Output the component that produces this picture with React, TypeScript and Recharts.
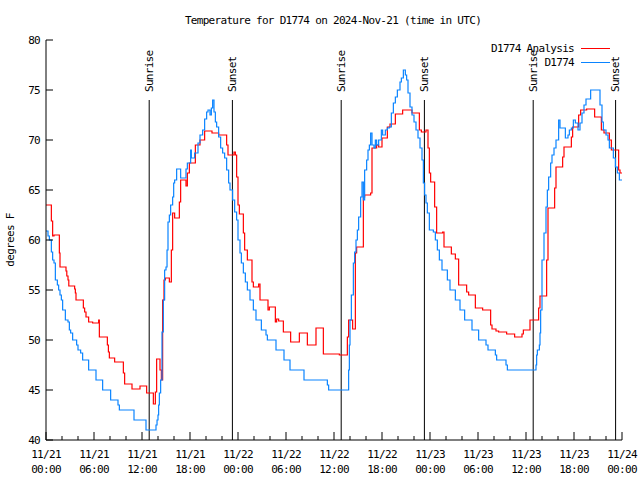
import { LineChart, Line, XAxis, YAxis, ReferenceLine, Legend } from "recharts";

// hours since 11/21 00:00 UTC, temperature in F
const analysis: [number, number][] = [
  [0, 63.5], [0.67, 61.9], [0.83, 60.4], [1.0, 60.5], [1.67, 58.7], [1.75, 57.3], [2.5, 56.9], [2.6, 56.4],
  [2.75, 56.0], [2.85, 55.4], [3.58, 55.1], [3.67, 54.7], [3.75, 54.0], [4.67, 53.2], [4.83, 52.8], [5.0, 52.3],
  [5.33, 51.8], [5.83, 51.7], [6.58, 52.0], [6.67, 50.3], [7.67, 49.5], [7.8, 48.8], [7.92, 48.2], [8.58, 47.8],
  [9.67, 46.7], [9.83, 45.6], [10.75, 45.1], [11.75, 45.4], [12.58, 44.7], [13.42, 43.6], [13.67, 44.8], [13.83, 48.1],
  [14.25, 47.0], [14.42, 46.0], [14.58, 54.0], [14.75, 56.0], [14.92, 56.2], [15.42, 55.8], [15.67, 59.0], [15.83, 62.7],
  [16.08, 62.2], [16.67, 63.8], [16.83, 66.0], [17.5, 65.4], [17.67, 66.7], [17.92, 67.7], [18.67, 69.5], [19.25, 70.0],
  [19.83, 70.9], [20.75, 70.7], [21.58, 70.5], [22.58, 69.5], [22.75, 68.5], [23.5, 68.8], [23.67, 68.5], [23.83, 66.3],
  [24.0, 63.5], [24.17, 62.6], [24.67, 60.7], [24.83, 59.0], [25.17, 58.0], [25.75, 55.8], [25.92, 55.3], [26.58, 55.6],
  [26.75, 54.0], [27.75, 53.0], [27.92, 53.3], [28.67, 51.8], [28.83, 52.1], [29.08, 51.9], [29.67, 50.8], [30.58, 49.8],
  [31.67, 50.7], [32.67, 49.5], [33.75, 51.2], [34.67, 48.6], [36.67, 48.5], [37.67, 50.3], [37.83, 52.0], [38.33, 51.1],
  [38.67, 58.7], [38.83, 59.3], [39.67, 64.3], [39.83, 64.5], [40.58, 64.7], [40.75, 69.2], [41.33, 69.5], [41.58, 69.3],
  [42.0, 70.2], [42.67, 71.3], [43.0, 71.6], [43.67, 72.6], [44.58, 73.0], [45.75, 72.7], [46.67, 71.0], [46.92, 70.8],
  [47.5, 71.0], [47.75, 69.2], [47.92, 66.7], [48.08, 65.8], [48.58, 63.3], [48.83, 60.7], [49.58, 60.8], [49.75, 59.3],
  [50.67, 58.6], [51.17, 58.1], [51.58, 55.5], [52.58, 54.8], [52.83, 54.5], [53.67, 53.2], [54.58, 53.0], [55.58, 51.5],
  [55.75, 51.1], [56.25, 50.9], [56.58, 50.8], [57.58, 50.6], [58.58, 50.3], [59.5, 50.6], [59.67, 51.0], [60.5, 52.0],
  [61.58, 53.2], [61.75, 54.4], [62.58, 58.0], [62.75, 63.2], [63.58, 65.2], [63.75, 67.3], [64.58, 68.3], [64.75, 69.3],
  [65.67, 70.3], [65.83, 71.3], [66.58, 72.5], [66.83, 73.0], [67.58, 73.1], [68.58, 72.3], [69.42, 71.0], [69.75, 70.7],
  [70.42, 70.0], [70.67, 69.0], [71.58, 67.0], [71.75, 66.7], [72, 66.7],
];

const station: [number, number][] = [
  [0, 60.9], [0.25, 60.4], [0.42, 60.0], [0.67, 58.8], [0.83, 58.0], [1.0, 57.7], [1.17, 56.0], [1.42, 55.5],
  [1.58, 55.0], [1.75, 54.5], [1.92, 54.0], [2.08, 53.0], [2.42, 52.0], [2.75, 51.8], [2.92, 51.0], [3.08, 50.7],
  [3.33, 50.0], [3.83, 49.5], [4.0, 49.0], [4.33, 48.7], [4.58, 48.0], [5.33, 47.0], [6.25, 46.0], [7.08, 45.0],
  [8.08, 44.0], [9.0, 43.5], [9.17, 43.0], [11.0, 42.0], [12.5, 41.0], [13.75, 41.5], [13.88, 42.0], [14.0, 42.5],
  [14.08, 43.5], [14.17, 44.7], [14.33, 46.0], [14.5, 50.8], [14.67, 54.0], [14.83, 57.0], [15.0, 57.3], [15.13, 59.0],
  [15.25, 61.8], [15.42, 62.5], [15.58, 63.5], [15.83, 64.3], [15.96, 65.7], [16.08, 66.0], [16.33, 67.1], [16.83, 66.2],
  [17.5, 67.1], [17.67, 67.7], [18.08, 69.0], [18.17, 68.2], [18.58, 68.7], [19.0, 69.7], [19.25, 70.5], [19.58, 71.0],
  [19.83, 72.1], [20.08, 72.8], [20.25, 73.0], [20.5, 72.5], [20.67, 73.2], [20.83, 74.0], [21.0, 72.8], [21.17, 71.8],
  [21.33, 71.3], [21.58, 70.3], [21.83, 69.2], [22.08, 68.7], [22.33, 68.2], [22.58, 67.0], [22.83, 65.7], [23.0, 65.0],
  [23.33, 64.0], [23.58, 62.8], [23.83, 62.0], [24.0, 60.0], [24.25, 58.7], [24.42, 57.7], [24.67, 56.7], [24.92, 55.8],
  [25.17, 55.0], [25.5, 54.0], [25.92, 53.0], [26.25, 52.0], [26.92, 51.0], [27.5, 50.5], [27.67, 50.0], [28.75, 49.0],
  [29.75, 48.0], [30.5, 47.0], [32.25, 46.0], [35.17, 45.5], [35.33, 45.0], [37.83, 47.0], [37.92, 49.5], [38.0, 52.0],
  [38.17, 54.5], [38.42, 57.7], [38.58, 58.8], [38.75, 60.0], [38.92, 61.0], [39.08, 62.3], [39.33, 64.3], [39.5, 65.8],
  [39.67, 64.0], [39.83, 67.0], [40.08, 68.0], [40.25, 69.0], [40.42, 69.5], [40.58, 70.7], [40.75, 69.5], [41.0, 69.2],
  [41.17, 70.0], [41.33, 69.5], [41.58, 70.0], [41.92, 71.0], [42.08, 70.5], [42.42, 71.0], [42.67, 71.2], [42.92, 71.3],
  [43.17, 72.7], [43.42, 73.7], [43.67, 74.3], [43.92, 75.0], [44.25, 75.8], [44.42, 76.2], [44.67, 77.0], [44.92, 76.5],
  [45.08, 76.0], [45.25, 74.7], [45.5, 73.3], [45.75, 72.5], [46.0, 71.8], [46.25, 71.0], [46.5, 70.2], [46.75, 69.2],
  [47.0, 68.0], [47.17, 65.7], [47.33, 64.5], [47.5, 63.7], [47.67, 62.7], [47.92, 61.0], [48.42, 60.8], [48.67, 60.0],
  [48.92, 59.0], [49.17, 58.0], [49.5, 57.0], [50.17, 56.0], [50.5, 55.0], [51.17, 54.0], [51.75, 53.0], [52.33, 52.0],
  [53.25, 51.0], [54.08, 50.0], [55.0, 49.5], [55.25, 49.0], [56.17, 48.5], [56.33, 48.0], [57.5, 47.5], [57.67, 47.0],
  [61.25, 47.5], [61.33, 48.5], [61.42, 49.0], [61.67, 49.5], [61.75, 50.7], [61.83, 53.0], [62.0, 58.0], [62.25, 60.7],
  [62.5, 63.3], [62.67, 65.0], [62.83, 66.3], [63.08, 67.7], [63.25, 68.5], [63.5, 69.2], [63.75, 70.0], [64.08, 72.0],
  [64.25, 71.2], [64.92, 70.2], [65.25, 70.5], [65.42, 71.0], [65.67, 71.2], [65.92, 72.0], [66.17, 71.7], [66.5, 71.0],
  [66.75, 71.7], [67.0, 72.7], [67.25, 73.5], [67.5, 74.1], [68.08, 75.0], [69.25, 73.5], [69.5, 71.8], [69.67, 71.0],
  [70.0, 70.5], [70.25, 70.0], [70.42, 69.2], [70.92, 68.2], [71.17, 67.3], [71.42, 66.7], [71.67, 66.0], [72, 66.0],
];

const seriesNames = ["D1774 Analysis", "D1774"];

const sunHours = [12.9, 23.3, 36.9, 47.3, 60.9, 71.2];
const sunLabels = ["Sunrise", "Sunset", "Sunrise", "Sunset", "Sunrise", "Sunset"];

const xTickHours = [0, 2, 4, 6, 8, 10, 12, 14, 16, 18, 20, 22, 24, 26, 28, 30, 32, 34, 36, 38, 40, 42, 44, 46, 48, 50, 52, 54, 56, 58, 60, 62, 64, 66, 68, 70, 72];
const xLabelHours = [0, 6, 12, 18, 24, 30, 36, 42, 48, 54, 60, 66, 72];
const xLabelDates = ["11/21", "11/21", "11/21", "11/21", "11/22", "11/22", "11/22", "11/22", "11/23", "11/23", "11/23", "11/23", "11/24"];
const xLabelTimes = ["00:00", "06:00", "12:00", "18:00", "00:00", "06:00", "12:00", "18:00", "00:00", "06:00", "12:00", "18:00", "00:00"];
const yTicks = [40, 45, 50, 55, 60, 65, 70, 75, 80];

const FONT = "'DejaVu Sans Mono', monospace";
const FS = 11;
const LS = -0.7;
const RED = "#ff0000";
const BLUE = "#0a84ff";
const LEFT = 46;
const RIGHT = 622;

const toRows = (pts: [number, number][]) => pts.map(([h, t]) => ({ h, t }));

function BottomTick({ x, y, payload }: any) {
  const i = xLabelHours.indexOf(payload.value);
  const major = i >= 0;
  return (
    <g>
      <line x1={x} x2={x} y1={y} y2={y - (major ? 8 : 4)} stroke="#000" />
      {major && (
        <text x={x} textAnchor="middle" fontFamily={FONT} fontSize={FS} letterSpacing={LS} fill="#000">
          <tspan x={x} y={y + 18}>{xLabelDates[i]}</tspan>
          <tspan x={x} y={y + 33}>{xLabelTimes[i]}</tspan>
        </text>
      )}
    </g>
  );
}

function TopTick({ x, y, payload }: any) {
  const major = xLabelHours.includes(payload.value);
  return <line x1={x} x2={x} y1={y} y2={y + (major ? 8 : 4)} stroke="#000" />;
}

function LeftTick({ y, payload }: any) {
  return (
    <g>
      <line x1={LEFT} x2={LEFT + 7} y1={y} y2={y} stroke="#000" />
      <text x={LEFT - 6} y={y} dy="0.35em" textAnchor="end" fontFamily={FONT} fontSize={FS} letterSpacing={LS} fill="#000">
        {payload.value}
      </text>
    </g>
  );
}

function RightTick({ y }: any) {
  return <line x1={RIGHT} x2={RIGHT - 7} y1={y} y2={y} stroke="#000" />;
}

function SunLabel({ viewBox, text }: any) {
  const x = viewBox.x;
  const y = viewBox.y - 8;
  return (
    <text
      x={x}
      y={y}
      transform={`rotate(-90 ${x} ${y})`}
      dominantBaseline="central"
      fontFamily={FONT}
      fontSize={FS}
      letterSpacing={LS}
      fill="#000"
    >
      {text}
    </text>
  );
}

function LegendBox({ payload }: any) {
  const items = [...(payload || [])].sort(
    (a: any, b: any) => seriesNames.indexOf(a.value) - seriesNames.indexOf(b.value),
  );
  return (
    <div style={{ fontFamily: FONT, fontSize: FS, letterSpacing: LS, color: "#000" }}>
      {items.map((p: any) => (
        <div key={p.value} style={{ display: "flex", justifyContent: "flex-end", alignItems: "center", height: 14 }}>
          <span>{p.value}</span>
          <span style={{ display: "inline-block", width: 29, borderTop: `1.2px solid ${p.color}`, marginLeft: 7, marginRight: 4 }} />
        </div>
      ))}
    </div>
  );
}

export default function App() {
  return (
    <div style={{ position: "relative", width: 640, height: 480, background: "#fff" }}>
      <style>{"body{margin:0}"}</style>
      <div
        style={{
          position: "absolute",
          left: 133,
          width: 400,
          top: 14,
          textAlign: "center",
          fontFamily: FONT,
          fontSize: FS,
          letterSpacing: LS,
          color: "#000",
        }}
      >
        Temperature for D1774 on 2024-Nov-21 (time in UTC)
      </div>
      <LineChart width={640} height={480} margin={{ top: 40, right: 18, bottom: 0, left: 6 }}>
        <XAxis
          xAxisId="main"
          dataKey="h"
          type="number"
          domain={[0, 72]}
          ticks={xTickHours}
          interval={0}
          height={40}
          tickSize={0}
          tickMargin={0}
          tickLine={false}
          axisLine={{ stroke: "#000" }}
          tick={<BottomTick />}
          allowDataOverflow
        />
        <XAxis
          xAxisId="top"
          orientation="top"
          type="number"
          domain={[0, 72]}
          ticks={xTickHours}
          interval={0}
          height={0}
          tickSize={0}
          tickMargin={0}
          tickLine={false}
          axisLine={{ stroke: "#000" }}
          tick={<TopTick />}
        />
        <YAxis
          yAxisId="left"
          type="number"
          domain={[40, 80]}
          ticks={yTicks}
          interval={0}
          width={40}
          tickSize={0}
          tickMargin={0}
          tickLine={false}
          axisLine={{ stroke: "#000" }}
          tick={<LeftTick />}
          label={{
            value: "degrees F",
            angle: -90,
            position: "insideLeft",
            offset: 4,
            style: { fontFamily: FONT, fontSize: FS, letterSpacing: LS, fill: "#000", textAnchor: "middle" },
          }}
        />
        <YAxis
          yAxisId="right"
          orientation="right"
          type="number"
          domain={[40, 80]}
          ticks={yTicks}
          interval={0}
          width={0}
          tickSize={0}
          tickMargin={0}
          tickLine={false}
          axisLine={{ stroke: "#000" }}
          tick={<RightTick />}
        />
        {sunHours.map((h, i) => (
          <ReferenceLine
            key={i}
            xAxisId="main"
            yAxisId="left"
            segment={[{ x: h, y: 74 }, { x: h, y: 40 }]}
            stroke="#000"
            strokeWidth={1}
            label={<SunLabel text={sunLabels[i]} />}
          />
        ))}
        <Legend
          layout="vertical"
          align="center"
          verticalAlign="middle"
          content={<LegendBox />}
          wrapperStyle={{ top: 41, left: 400, width: 214, height: 30 }}
        />
        <Line
          xAxisId="main"
          yAxisId="left"
          data={toRows(analysis)}
          dataKey="t"
          name={seriesNames[0]}
          type="stepAfter"
          stroke={RED}
          strokeWidth={1.2}
          dot={false}
          activeDot={false}
          isAnimationActive={false}
        />
        <Line
          xAxisId="main"
          yAxisId="left"
          data={toRows(station)}
          dataKey="t"
          name={seriesNames[1]}
          type="stepAfter"
          stroke={BLUE}
          strokeWidth={1.2}
          dot={false}
          activeDot={false}
          isAnimationActive={false}
        />
      </LineChart>
    </div>
  );
}
